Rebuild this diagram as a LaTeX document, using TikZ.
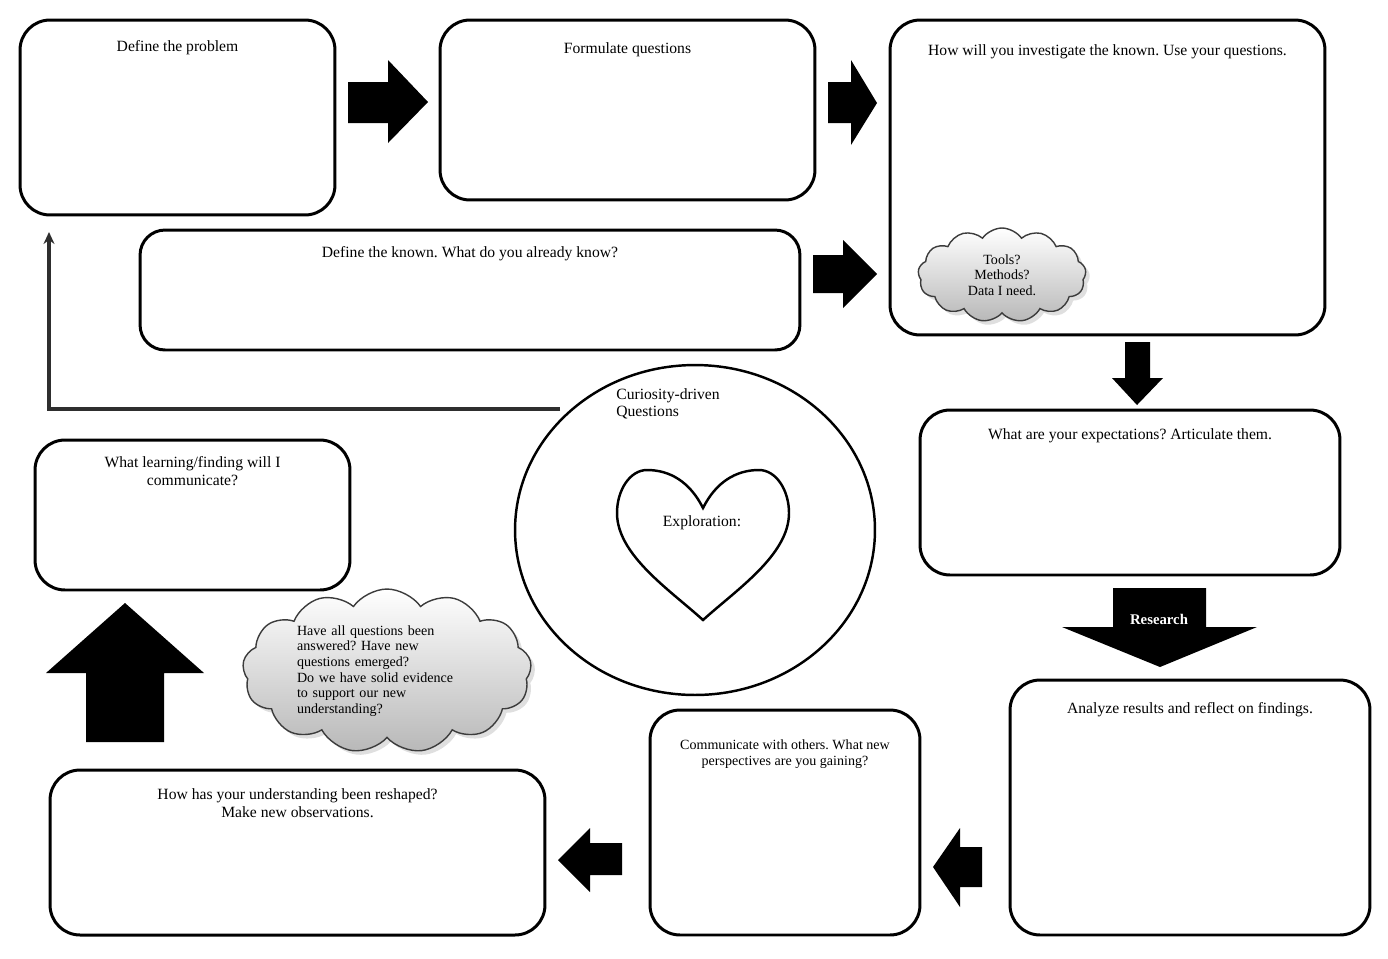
\documentclass[tikz,border=0pt]{standalone}
\usepackage{fontspec}
\setmainfont{Liberation Serif}
\frenchspacing
\usetikzlibrary{shapes.geometric,shapes.symbols,arrows.meta,shadows}
\definecolor{feedGrey}{HTML}{2E2E2E}
\definecolor{cloudShade}{HTML}{B8B8B8}
\definecolor{cloudLine}{HTML}{3C3C3C}
\tikzset{
  stagebox/.style={rectangle, rounded corners=0.6cm, draw=black, line width=1.7pt, fill=white, inner sep=0pt},
  boxtitle/.style={anchor=north, inner sep=0pt, align=center, font=\fontsize{8.9}{10}\selectfont},
  smalltitle/.style={boxtitle, font=\fontsize{8}{9.2}\selectfont},
  thoughtcloud/.style={cloud, cloud puffs=13, cloud puff arc=110, cloud ignores aspect, draw=cloudLine, line width=0.8pt, top color=white, bottom color=cloudShade, drop shadow={opacity=0.25, shadow xshift=0.08cm, shadow yshift=-0.08cm}, inner sep=0pt, font=\fontsize{8}{8.9}\selectfont},
  blockarrow/.style={fill=black},
  feedbackline/.style={-{Stealth[length=2.4mm,width=2.2mm]}, line width=2.1pt, draw=feedGrey},
  % --- centre ---
  coreshape/.style={draw=black, line width=1.4pt, fill=white},
}

\begin{document}
\begin{tikzpicture}[x=0.02cm,y=-0.02cm]
  \useasboundingbox (0,0) rectangle (1388,958);

  % Stages, top row
  \node[stagebox, minimum width=6.3cm, minimum height=3.9cm, label={[boxtitle, yshift=-0.44cm]north:Define the problem}] (problem) at (177.5,117.5) {};
  \node[stagebox, minimum width=7.5cm, minimum height=3.6cm, label={[boxtitle, yshift=-0.48cm]north:Formulate questions}] (formulate) at (627.5,110) {};
  \node[stagebox, minimum width=8.7cm, minimum height=6.3cm, label={[boxtitle, yshift=-0.52cm]north:How will you investigate the known. Use your questions.}] (investigate) at (1107.5,177.5) {};
  \node[stagebox, minimum width=13.2cm, minimum height=2.4cm, rounded corners=0.5cm, label={[boxtitle, yshift=-0.36cm]north:Define the known. What do you already know?}] (known) at (470,290) {};

  % Stages, right and bottom
  \node[stagebox, minimum width=8.4cm, minimum height=3.3cm, label={[boxtitle, yshift=-0.4cm]north:What are your expectations? Articulate them.}] (expect) at (1130,492.5) {};
  \node[stagebox, minimum width=7.2cm, minimum height=5.1cm, label={[boxtitle, yshift=-0.48cm]north:Analyze results and reflect on findings.}] (analyze) at (1190,807.5) {};
  \node[stagebox, minimum width=5.4cm, minimum height=4.5cm, label={[smalltitle, yshift=-0.62cm]north:Communicate with others. What new\\perspectives are you gaining?}] (others) at (785,822.5) {};
  \node[stagebox, minimum width=9.9cm, minimum height=3.3cm, label={[boxtitle, yshift=-0.4cm]north:How has your understanding been reshaped?\\Make new observations.}] (reshaped) at (297.5,852.5) {};
  \node[stagebox, minimum width=6.3cm, minimum height=3cm, label={[boxtitle, yshift=-0.36cm]north:What learning/finding will I\\communicate?}] (learning) at (192.5,515) {};

  % Centre
  \node[ellipse, coreshape, minimum width=7.2cm, minimum height=6.6cm] (curious) at (695,530) {};
  \node[boxtitle, anchor=north west, align=left] (curioustext) at (616,388) {Curiosity-driven\\Questions};
  \draw[coreshape] (703,508) .. controls (690,482) and (670,470) .. (647,470)
    .. controls (630,470) and (617,490) .. (617,513)
    .. controls (617,555) and (670,590) .. (703,620)
    .. controls (736,590) and (789,555) .. (789,513)
    .. controls (789,490) and (776,470) .. (759,470)
    .. controls (736,470) and (716,482) .. (703,508) -- cycle;
  \node[boxtitle, anchor=center] (explore) at (702,523) {Exploration:};

  % Clouds
  \node[thoughtcloud, minimum width=3.36cm, minimum height=1.88cm, align=center] (tools) at (1002,275) {Tools?\\Methods?\\Data I need.};
  \node[thoughtcloud, minimum width=5.78cm, minimum height=3.28cm, align=left, text width=3.6cm] (answered) at (387,671) {Have all questions been\\answered? Have new\\questions emerged?\\Do we have solid evidence\\to support our new\\understanding?};

  % Block arrows
  \fill[blockarrow] (348,82) -- (388,82) -- (388,60) -- (428,102) -- (388,143) -- (388,123) -- (348,123) -- cycle;
  \fill[blockarrow] (828,82) -- (851,82) -- (851,60) -- (877,103) -- (851,145) -- (851,123) -- (828,123) -- cycle;
  \fill[blockarrow] (813,255) -- (843,255) -- (843,240) -- (877,274) -- (843,308) -- (843,293) -- (813,293) -- cycle;
  \fill[blockarrow] (1125,342) -- (1150,342) -- (1150,378) -- (1163,378) -- (1137,405) -- (1112,378) -- (1125,378) -- cycle;
  \fill[blockarrow] (1113,588) -- (1206,588) -- (1206,627) -- (1257,627) -- (1160,667) -- (1062,627) -- (1113,627) -- cycle;
  \node[font=\bfseries\fontsize{8.4}{10}\selectfont, text=white, inner sep=0pt] (research) at (1159,619) {Research};
  \fill[blockarrow] (982,847) -- (960,847) -- (960,828) -- (933,867) -- (960,907) -- (960,887) -- (982,887) -- cycle;
  \fill[blockarrow] (622,843) -- (590,843) -- (590,828) -- (558,860) -- (590,892) -- (590,875) -- (622,875) -- cycle;
  \fill[blockarrow] (86,742) -- (86,673) -- (46,673) -- (125,603) -- (204,673) -- (164,673) -- (164,742) -- cycle;

  % Feedback loop
  \coordinate (fbstart) at (560,409);
  \coordinate (fbend) at (49,232);
  \draw[feedbackline] (fbstart) -| (fbend);
\end{tikzpicture}
\end{document}
